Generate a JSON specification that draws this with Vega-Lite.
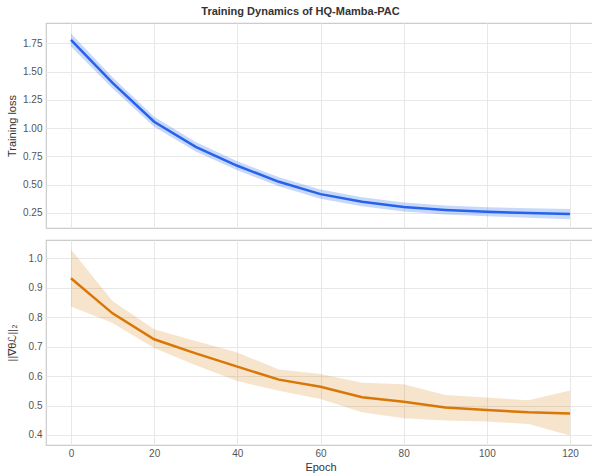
{
  "$schema": "https://vega.github.io/schema/vega-lite/v6.json",
  "padding": {"left": 5, "top": 6, "right": 0, "bottom": 0},
  "background": "white",
  "title": {"text": "Training Dynamics of HQ-Mamba-PAC", "fontSize": 11, "fontWeight": "bold", "color": "#333333", "font": "Liberation Sans", "anchor": "middle", "offset": 5},
  "config": {
    "font": "Liberation Sans",
    "view": {"stroke": "#cccccc", "strokeWidth": 1.2},
    "axis": {"gridColor": "#e8e8e8", "gridWidth": 1, "domain": false, "ticks": false, "labelFontSize": 10, "labelColor": "#555555", "titleFontSize": 11, "titleColor": "#333333", "titleFontWeight": "normal", "labelPadding": 4, "labelOverlap": false}
  },
  "data": {"values": [
    {"epoch": 0, "loss": 1.78, "loss_lo": 1.722, "loss_hi": 1.838, "grad": 0.932, "grad_lo": 0.836, "grad_hi": 1.03},
    {"epoch": 10, "loss": 1.40, "loss_lo": 1.35, "loss_hi": 1.45, "grad": 0.813, "grad_lo": 0.78, "grad_hi": 0.855},
    {"epoch": 20, "loss": 1.056, "loss_lo": 1.011, "loss_hi": 1.101, "grad": 0.725, "grad_lo": 0.695, "grad_hi": 0.759},
    {"epoch": 30, "loss": 0.834, "loss_lo": 0.792, "loss_hi": 0.876, "grad": 0.677, "grad_lo": 0.637, "grad_hi": 0.719},
    {"epoch": 40, "loss": 0.666, "loss_lo": 0.626, "loss_hi": 0.706, "grad": 0.632, "grad_lo": 0.583, "grad_hi": 0.68},
    {"epoch": 50, "loss": 0.524, "loss_lo": 0.484, "loss_hi": 0.564, "grad": 0.588, "grad_lo": 0.55, "grad_hi": 0.622},
    {"epoch": 60, "loss": 0.415, "loss_lo": 0.375, "loss_hi": 0.455, "grad": 0.564, "grad_lo": 0.522, "grad_hi": 0.607},
    {"epoch": 70, "loss": 0.347, "loss_lo": 0.307, "loss_hi": 0.387, "grad": 0.528, "grad_lo": 0.477, "grad_hi": 0.577},
    {"epoch": 80, "loss": 0.30, "loss_lo": 0.26, "loss_hi": 0.34, "grad": 0.513, "grad_lo": 0.457, "grad_hi": 0.572},
    {"epoch": 90, "loss": 0.275, "loss_lo": 0.235, "loss_hi": 0.315, "grad": 0.493, "grad_lo": 0.449, "grad_hi": 0.536},
    {"epoch": 100, "loss": 0.258, "loss_lo": 0.218, "loss_hi": 0.298, "grad": 0.485, "grad_lo": 0.446, "grad_hi": 0.527},
    {"epoch": 110, "loss": 0.248, "loss_lo": 0.206, "loss_hi": 0.29, "grad": 0.477, "grad_lo": 0.437, "grad_hi": 0.518},
    {"epoch": 120, "loss": 0.238, "loss_lo": 0.193, "loss_hi": 0.283, "grad": 0.473, "grad_lo": 0.398, "grad_hi": 0.551}
  ]},
  "spacing": 10,
  "vconcat": [
    {
      "width": 549,
      "height": 205,
      "layer": [
        {
          "mark": {"type": "area", "color": "#2563eb", "opacity": 0.25},
          "encoding": {
            "x": {"field": "epoch", "type": "quantitative", "scale": {"domain": [-6, 126], "nice": false, "zero": false}, "axis": {"values": [0, 20, 40, 60, 80, 100, 120], "labels": false, "title": null, "labelPadding": 0}},
            "y": {"field": "loss_lo", "type": "quantitative", "scale": {"domain": [0.115, 1.93], "nice": false, "zero": false}, "axis": {"values": [0.25, 0.5, 0.75, 1.0, 1.25, 1.5, 1.75], "format": ".2f", "title": "Training loss", "titleX": -29, "labelOverlap": false}},
            "y2": {"field": "loss_hi"}
          }
        },
        {
          "mark": {"type": "line", "color": "#2563eb", "strokeWidth": 2.5},
          "encoding": {
            "x": {"field": "epoch", "type": "quantitative", "axis": {"values": [0, 20, 40, 60, 80, 100, 120], "labels": false, "title": null, "labelPadding": 0}},
            "y": {"field": "loss", "type": "quantitative", "axis": {"values": [0.25, 0.5, 0.75, 1.0, 1.25, 1.5, 1.75], "format": ".2f", "title": "Training loss", "titleX": -29, "labelOverlap": false}}
          }
        }
      ]
    },
    {
      "width": 549,
      "height": 205,
      "layer": [
        {
          "mark": {"type": "area", "color": "#d97706", "opacity": 0.2},
          "encoding": {
            "x": {"field": "epoch", "type": "quantitative", "scale": {"domain": [-6, 126], "nice": false, "zero": false}, "axis": {"values": [0, 20, 40, 60, 80, 100, 120], "title": "Epoch", "titlePadding": 3, "labelPadding": 3}},
            "y": {"field": "grad_lo", "type": "quantitative", "scale": {"domain": [0.366, 1.062], "nice": false, "zero": false}, "axis": {"values": [0.4, 0.5, 0.6, 0.7, 0.8, 0.9, 1.0], "format": ".1f", "title": "||∇θℒ||₂", "titleX": -29, "labelOverlap": false}},
            "y2": {"field": "grad_hi"}
          }
        },
        {
          "mark": {"type": "line", "color": "#d97706", "strokeWidth": 2.5},
          "encoding": {
            "x": {"field": "epoch", "type": "quantitative", "axis": {"values": [0, 20, 40, 60, 80, 100, 120], "title": "Epoch", "titlePadding": 3, "labelPadding": 3}},
            "y": {"field": "grad", "type": "quantitative", "axis": {"values": [0.4, 0.5, 0.6, 0.7, 0.8, 0.9, 1.0], "format": ".1f", "title": "||∇θℒ||₂", "titleX": -29, "labelOverlap": false}}
          }
        }
      ]
    }
  ]
}
